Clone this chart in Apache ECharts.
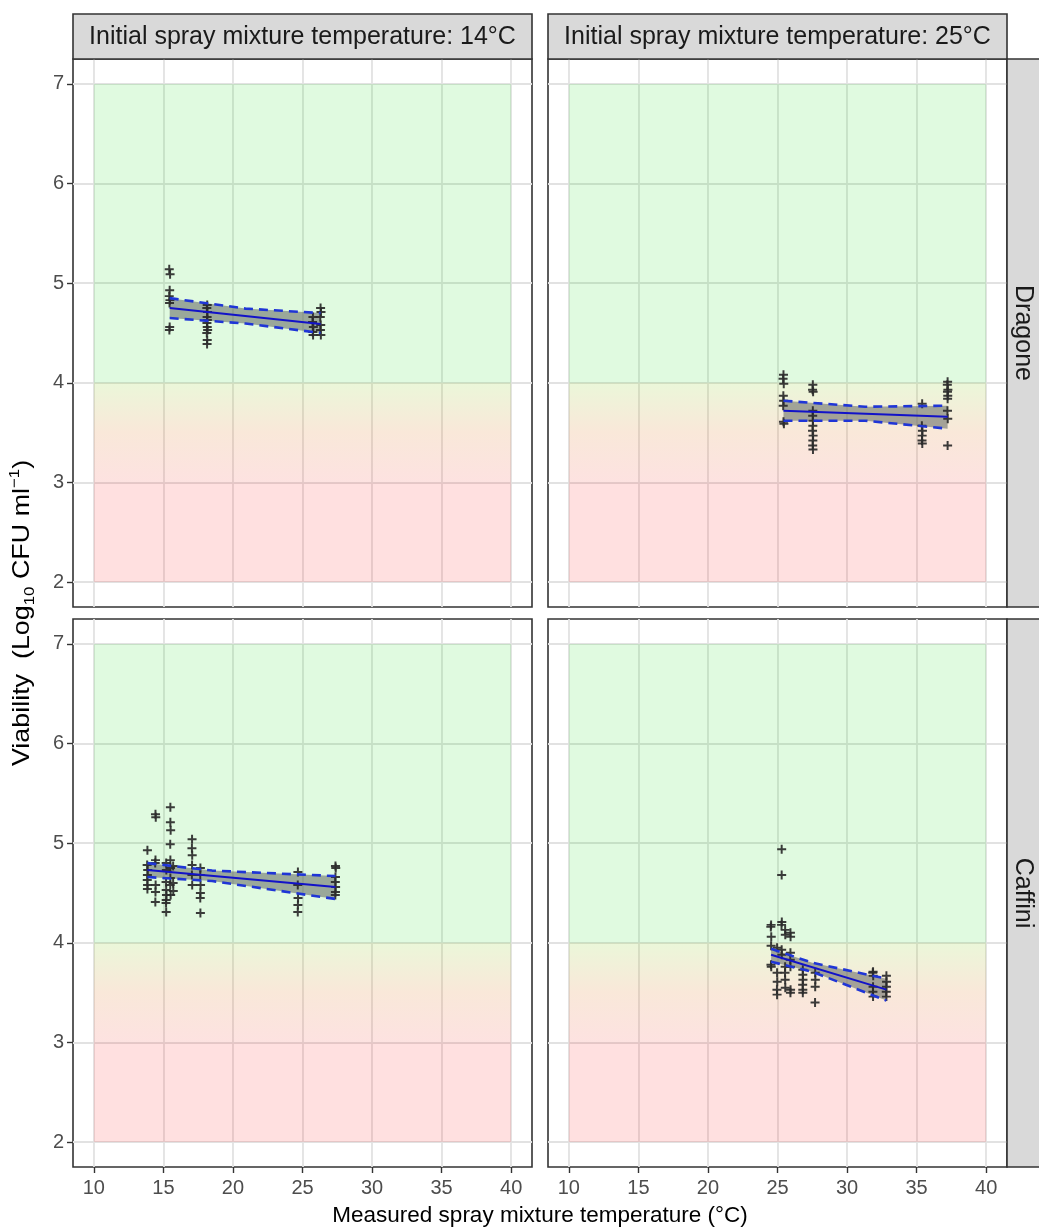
<!DOCTYPE html>
<html><head><meta charset="utf-8">
<script src="https://cdn.jsdelivr.net/npm/echarts@6/dist/echarts.min.js"></script>
<style>html,body{margin:0;padding:0;background:#fff}#c{width:1039px;height:1228px}</style>
</head><body><div id="c"></div><script>
// ---------- data ----------
const xTicks = [10, 15, 20, 25, 30, 35, 40];
const yTicks = [2, 3, 4, 5, 6, 7];
const colTitles = ['Initial spray mixture temperature: 14°C', 'Initial spray mixture temperature: 25°C'];
const rowTitles = ['Dragone', 'Caffini'];
const xAxisTitle = 'Measured spray mixture temperature (°C)';

// viability zones: [xFrom, xTo, yFrom, yTo]
const zoneGreen = [10, 40, 4, 7];
const zoneMid = [10, 40, 3, 4];
const zoneRed = [10, 40, 2, 3];

// observations [temperature, viability]
const dragone14 = [
  [15.42,5.14],[15.48,5.09],[15.45,4.93],[15.42,4.87],[15.47,4.83],[15.44,4.80],[15.45,4.56],[15.43,4.53],
  [18.15,4.78],[18.12,4.75],[18.17,4.71],[18.14,4.66],[18.16,4.63],[18.13,4.60],[18.15,4.56],[18.18,4.53],[18.12,4.50],[18.15,4.43],[18.14,4.39],
  [25.75,4.66],[25.72,4.61],[25.78,4.56],[25.74,4.51],[25.76,4.48],
  [26.30,4.75],[26.33,4.71],[26.28,4.66],[26.31,4.58],[26.29,4.53],[26.32,4.48]
];
const dragone25 = [
  [25.43,4.08],[25.40,4.04],[25.45,3.99],[25.42,3.87],[25.44,3.82],[25.41,3.77],[25.43,3.61],[25.46,3.59],
  [27.54,3.98],[27.52,3.93],[27.56,3.91],[27.54,3.72],[27.53,3.67],[27.55,3.62],[27.54,3.57],[27.52,3.52],[27.56,3.47],[27.54,3.42],[27.53,3.37],[27.55,3.33],
  [35.40,3.79],[35.38,3.57],[35.42,3.52],[35.40,3.47],[35.39,3.42],[35.41,3.39],
  [37.23,4.01],[37.21,3.98],[37.25,3.93],[37.22,3.91],[37.24,3.87],[37.23,3.84],[37.22,3.72],[37.24,3.64],[37.23,3.37]
];
const caffini14 = [
  [13.85,4.93],[13.83,4.78],[13.87,4.73],[13.85,4.68],[13.84,4.63],[13.86,4.58],[13.85,4.54],
  [14.43,5.29],[14.45,5.26],[14.43,4.83],[14.41,4.80],[14.44,4.58],[14.43,4.51],[14.42,4.41],
  [15.50,5.36],[15.50,5.21],[15.52,5.13],[15.49,4.99],[15.50,4.83],[15.51,4.75],[15.50,4.65],[15.49,4.58],[15.52,4.48],
  [15.20,4.80],[15.21,4.73],[15.19,4.61],[15.20,4.53],[15.22,4.48],[15.20,4.43],[15.19,4.40],[15.20,4.31],
  [15.70,4.77],[15.70,4.60],[15.71,4.52],
  [17.06,5.04],[17.05,4.95],[17.07,4.88],[17.06,4.78],[17.05,4.68],[17.07,4.58],
  [17.66,4.75],[17.65,4.68],[17.67,4.58],[17.66,4.50],[17.65,4.45],[17.66,4.30],
  [24.67,4.71],[24.66,4.58],[24.68,4.45],[24.67,4.38],[24.66,4.31],
  [27.37,4.77],[27.39,4.75],[27.37,4.66],[27.36,4.61],[27.38,4.56],[27.37,4.51],[27.36,4.48]
];
const caffini25 = [
  [24.54,4.18],[24.52,4.16],[24.55,4.06],[24.54,3.97],[24.53,3.78],[24.55,3.76],
  [24.97,3.95],[24.97,3.70],[24.98,3.61],[24.96,3.53],[24.97,3.48],
  [25.30,4.94],[25.30,4.68],[25.31,4.21],[25.29,4.18],[25.30,3.93],[25.31,3.88],
  [25.55,4.13],[25.56,4.08],[25.55,3.76],[25.54,3.70],[25.55,3.63],[25.56,3.55],
  [25.93,4.10],[25.94,4.06],[25.93,3.90],[25.92,3.83],[25.93,3.76],[25.94,3.53],[25.93,3.50],
  [26.82,3.73],[26.82,3.68],[26.83,3.63],[26.81,3.58],[26.82,3.53],[26.82,3.50],
  [27.71,3.70],[27.72,3.63],[27.71,3.56],[27.70,3.40],
  [31.87,3.71],[31.85,3.70],[31.88,3.67],[31.87,3.56],[31.86,3.51],[31.87,3.46],
  [32.83,3.67],[32.84,3.61],[32.83,3.56],[32.82,3.51],[32.83,3.46]
];

// linear fits and 95% confidence ribbons
const dragone14FitX = [15.45, 26.30], dragone14FitY = [4.75, 4.59];
const dragone14BandX = [15.45, 20.90, 26.30], dragone14Upper = [4.85, 4.745, 4.70], dragone14Lower = [4.65, 4.595, 4.50];
const dragone25FitX = [25.43, 37.23], dragone25FitY = [3.72, 3.66];
const dragone25BandX = [25.43, 31.30, 37.23], dragone25Upper = [3.82, 3.76, 3.77], dragone25Lower = [3.62, 3.62, 3.54];
const caffini14FitX = [13.85, 27.37], caffini14FitY = [4.73, 4.56];
const caffini14BandX = [13.85, 18.50, 27.37], caffini14Upper = [4.80, 4.725, 4.67], caffini14Lower = [4.66, 4.62, 4.44];
const caffini25FitX = [24.54, 32.83], caffini25FitY = [3.88, 3.53];
const caffini25BandX = [24.54, 27.50, 32.83], caffini25Upper = [3.94, 3.80, 3.64], caffini25Lower = [3.81, 3.71, 3.42];

// ---------- layout / style ----------
const FONT = '"Liberation Sans", Arial, Helvetica, sans-serif';
const LEFTS = [73, 548], TOPS = [59, 619], PW = 459, PH = 548;
const STRIP_H = 45, RSTRIP_W = 34;

const panels = [
  {row:0, col:0, pts:dragone14, fx:dragone14FitX, fy:dragone14FitY, bx:dragone14BandX, bu:dragone14Upper, bl:dragone14Lower},
  {row:0, col:1, pts:dragone25, fx:dragone25FitX, fy:dragone25FitY, bx:dragone25BandX, bu:dragone25Upper, bl:dragone25Lower},
  {row:1, col:0, pts:caffini14, fx:caffini14FitX, fy:caffini14FitY, bx:caffini14BandX, bu:caffini14Upper, bl:caffini14Lower},
  {row:1, col:1, pts:caffini25, fx:caffini25FitX, fy:caffini25FitY, bx:caffini25BandX, bu:caffini25Upper, bl:caffini25Lower}
];

const midGradient = new echarts.graphic.LinearGradient(0, 0, 0, 1, [
  {offset:0, color:'rgba(120,200,0,0.15)'},
  {offset:0.5, color:'rgba(215,100,0,0.15)'},
  {offset:1, color:'rgba(240,50,40,0.14)'}
]);
const zones = [zoneGreen, zoneMid, zoneRed];
const zoneFills = ['rgba(0,210,0,0.12)', midGradient, 'rgba(255,0,0,0.12)'];

const plusPath = 'path://M3.9,0 H6.1 V3.9 H10 V6.1 H6.1 V10 H3.9 V6.1 H0 V3.9 H3.9 Z';

const grids = [], xAxes = [], yAxes = [], series = [];
panels.forEach((p, i) => {
  grids.push({left: LEFTS[p.col], top: TOPS[p.row], width: PW, height: PH, show: true,
    backgroundColor: '#ffffff', borderColor: '#333333', borderWidth: 1.6});
  const bottom = p.row === 1, leftCol = p.col === 0;
  xAxes.push({gridIndex: i, type: 'value', min: 8.5, max: 41.5,
    axisLine: {show: false},
    axisTick: {show: bottom, customValues: xTicks, length: 6, lineStyle: {color: '#333', width: 1.4}},
    axisLabel: {show: bottom, customValues: xTicks, color: '#4d4d4d', fontSize: 20, fontFamily: FONT, margin: 11},
    splitLine: {show: true, lineStyle: {color: '#e2e2e2', width: 1.8}}
  });
  yAxes.push({gridIndex: i, type: 'value', min: 1.75, max: 7.25,
    axisLine: {show: false},
    axisTick: {show: leftCol, customValues: yTicks, length: 6, lineStyle: {color: '#333', width: 1.4}},
    axisLabel: {show: leftCol, customValues: yTicks, color: '#4d4d4d', fontSize: 20, fontFamily: FONT, margin: 9},
    splitLine: {show: true, lineStyle: {color: '#e2e2e2', width: 1.8}}
  });
  // zones
  series.push({type: 'custom', xAxisIndex: i, yAxisIndex: i, z: 1, silent: true,
    data: zones.map(z => z.slice()),
    encode: {x: [0, 1], y: [2, 3]},
    renderItem: function (params, api) {
      const a = api.coord([api.value(0), api.value(3)]);
      const b = api.coord([api.value(1), api.value(2)]);
      return {type: 'rect', shape: {x: a[0], y: a[1], width: b[0] - a[0], height: b[1] - a[1]},
        style: {fill: zoneFills[params.dataIndex]}};
    }
  });
  // confidence ribbon
  series.push({type: 'custom', xAxisIndex: i, yAxisIndex: i, z: 2, silent: true,
    data: [[p.bx[0], p.bu[0]]],
    renderItem: function (params, api) {
      const pts = [];
      for (let k = 0; k < p.bx.length; k++) pts.push(api.coord([p.bx[k], p.bu[k]]));
      for (let k = p.bx.length - 1; k >= 0; k--) pts.push(api.coord([p.bx[k], p.bl[k]]));
      return {type: 'polygon', shape: {points: pts}, style: {fill: 'rgba(100,105,100,0.57)'}};
    }
  });
  // scatter points
  series.push({type: 'scatter', xAxisIndex: i, yAxisIndex: i, z: 3, silent: true,
    symbol: plusPath, symbolSize: 9, itemStyle: {color: '#2a2a2a', opacity: 0.92},
    data: p.pts});
  // dashed ribbon edges
  series.push({type: 'line', xAxisIndex: i, yAxisIndex: i, z: 4, silent: true, symbol: 'none',
    lineStyle: {color: '#1f35d6', width: 2.6, type: [9, 6]},
    data: p.bx.map((x, k) => [x, p.bu[k]])});
  series.push({type: 'line', xAxisIndex: i, yAxisIndex: i, z: 4, silent: true, symbol: 'none',
    lineStyle: {color: '#1f35d6', width: 2.6, type: [9, 6]},
    data: p.bx.map((x, k) => [x, p.bl[k]])});
  // fitted line
  series.push({type: 'line', xAxisIndex: i, yAxisIndex: i, z: 5, silent: true, symbol: 'none',
    lineStyle: {color: '#1212c8', width: 2},
    data: p.fx.map((x, k) => [x, p.fy[k]])});
});

// strips and titles
const graphics = [];
colTitles.forEach((t, c) => {
  graphics.push({type: 'rect', shape: {x: LEFTS[c], y: TOPS[0] - STRIP_H, width: PW, height: STRIP_H},
    style: {fill: '#d9d9d9', stroke: '#333', lineWidth: 1.6}, z: 10});
  graphics.push({type: 'text', x: LEFTS[c] + PW / 2, y: TOPS[0] - STRIP_H / 2 + 1, z: 11,
    style: {text: t, fill: '#1a1a1a', font: '25px ' + FONT, align: 'center', verticalAlign: 'middle'}});
});
rowTitles.forEach((t, r) => {
  const x0 = LEFTS[1] + PW;
  graphics.push({type: 'rect', shape: {x: x0, y: TOPS[r], width: RSTRIP_W + 10, height: PH},
    style: {fill: '#d9d9d9', stroke: '#333', lineWidth: 1.6}, z: 10});
  graphics.push({type: 'text', x: x0 + RSTRIP_W / 2 - 1, y: TOPS[r] + PH / 2, rotation: -Math.PI / 2, z: 11,
    style: {text: t, fill: '#1a1a1a', font: '25px ' + FONT, align: 'center', verticalAlign: 'middle'}});
});
graphics.push({type: 'text', x: (LEFTS[0] + LEFTS[1] + PW) / 2, y: 1216, z: 11,
  style: {text: xAxisTitle, fill: '#000', font: '22.5px ' + FONT, align: 'center', verticalAlign: 'middle'}});
graphics.push({type: 'text', x: 22, y: (TOPS[0] + TOPS[1] + PH) / 2, rotation: Math.PI / 2, scaleX: 1.12, z: 11,
  style: {
    text: '{a|Viability  (Log}{s|10}{a| CFU ml}{p|−1}{a|)}',
    align: 'center', verticalAlign: 'middle',
    rich: {
      a: {fontSize: 24, fontFamily: FONT, fill: '#000', lineHeight: 30},
      s: {fontSize: 15, fontFamily: FONT, fill: '#000', lineHeight: 15, verticalAlign: 'bottom'},
      p: {fontSize: 15, fontFamily: FONT, fill: '#000', lineHeight: 15, verticalAlign: 'top'}
    }
  }});

const chart = echarts.init(document.getElementById('c'), null, {renderer: 'canvas'});
chart.setOption({
  animation: false,
  backgroundColor: '#ffffff',
  textStyle: {fontFamily: FONT},
  grid: grids, xAxis: xAxes, yAxis: yAxes, series: series,
  graphic: {elements: graphics}
});
</script></body></html>
